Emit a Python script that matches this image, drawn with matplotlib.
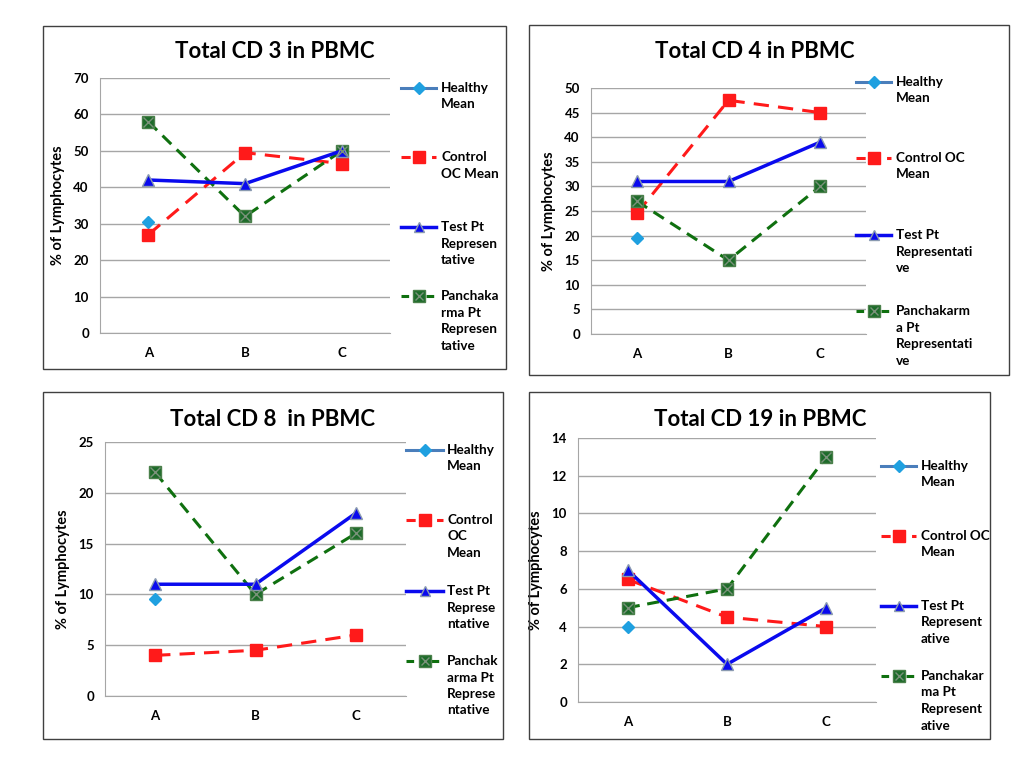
import matplotlib
matplotlib.use("Agg")
import matplotlib.pyplot as plt
import matplotlib.patches as mpatches
from matplotlib.lines import Line2D
import numpy as np

plt.rcParams['font.family'] = ['Lato', 'DejaVu Sans']
plt.rcParams['font.weight'] = 'bold'

cats = ['A', 'B', 'C']
nan = np.nan

cd3_healthy = [30.5, nan, nan]
cd3_control = [27, 49.5, 46.5]
cd3_test = [42, 41, 50]
cd3_pancha = [58, 32, 50]

cd4_healthy = [19.5, nan, nan]
cd4_control = [24.5, 47.5, 45]
cd4_test = [31, 31, 39]
cd4_pancha = [27, 15, 30]

cd8_healthy = [9.5, nan, nan]
cd8_control = [4, 4.5, 6]
cd8_test = [11, 11, 18]
cd8_pancha = [22, 10, 16]

cd19_healthy = [4, nan, nan]
cd19_control = [6.5, 4.5, 4]
cd19_test = [7, 2, 5]
cd19_pancha = [5, 6, 13]

W, H = 1024, 768
X_COLOR = '#7a927a'


def px_rect(x0, y0, x1, y1):
    # pixel box (top-left origin) -> figure fraction [l, b, w, h]
    return [x0 / W, 1 - y1 / H, (x1 - x0) / W, (y1 - y0) / H]


def draw_series(ax, healthy, control, test, pancha):
    x = np.arange(len(cats))
    ax.plot(x, healthy, color='#4a7ebb', lw=2.2, marker='D', ms=6,
            mfc='#1fa0e0', mec='#1fa0e0', zorder=3)
    ax.plot(x, control, color='#ff1a1a', lw=2.2, ls=(0, (5, 3)), marker='s',
            ms=9, mfc='#ff1a1a', mec='#ff1a1a', zorder=3)
    ax.plot(x, test, color='#0a0aee', lw=2.5, marker='^', ms=8,
            mfc='#0a0aee', mec='#8a9ab0', zorder=4)
    ax.plot(x, pancha, color='#0f700f', lw=2.2, ls=(0, (4, 2.5)), marker='s',
            ms=9, mfc='#1d6b2a', mec='#4a804a', zorder=3)
    ax.plot(x, pancha, ls='none', marker='x', ms=7, mec=X_COLOR,
            mew=1.0, zorder=4)


def style_axes(ax, ymax, step):
    ax.set_xlim(-0.5, 2.5)
    ax.set_ylim(0, ymax)
    ax.set_yticks(np.arange(0, ymax + step / 2, step))
    ax.set_xticks(range(len(cats)))
    ax.set_xticklabels(cats)
    ax.tick_params(length=0, labelsize=9.5)
    ax.tick_params(axis='y', pad=8)
    ax.tick_params(axis='x', pad=10)
    ax.grid(axis='y', color='#a6a6a6', lw=1)
    ax.set_axisbelow(True)
    for s in ['top', 'right']:
        ax.spines[s].set_visible(False)
    for s in ['left', 'bottom']:
        ax.spines[s].set_color('#a6a6a6')
    ax.set_ylabel('% of Lymphocytes', fontsize=10.5, fontweight='bold', labelpad=6)


def side_legend(fig, hx0, hx1, tx, ys, labels):
    styles = [
        dict(color='#4a7ebb', lw=2.2, marker='D', ms=6, mfc='#1fa0e0', mec='#1fa0e0'),
        dict(color='#ff1a1a', lw=2.2, ls=(0, (3, 2)), marker='s', ms=8,
             mfc='#ff1a1a', mec='#ff1a1a'),
        dict(color='#0a0aee', lw=2.5, marker='^', ms=7, mfc='#0a0aee', mec='#8a9ab0'),
        dict(color='#0f700f', lw=2.2, ls=(0, (2.5, 1.6)), marker='s', ms=8,
             mfc='#1d6b2a', mec='#4a804a'),
    ]
    for y, lab, st in zip(ys, labels, styles):
        yf = 1 - y / H
        ln = Line2D([hx0 / W, hx1 / W], [yf, yf], transform=fig.transFigure, **st)
        ln.set_markevery([])
        fig.add_artist(ln)
        mk = Line2D([(hx0 + hx1) / 2 / W], [yf], transform=fig.transFigure,
                    ls='none', **{k: v for k, v in st.items() if k not in ('ls', 'lw', 'color')})
        fig.add_artist(mk)
        if st['mfc'] == '#1d6b2a':
            fig.add_artist(Line2D([(hx0 + hx1) / 2 / W], [yf], transform=fig.transFigure,
                                  ls='none', marker='x', ms=6, mec=X_COLOR, mew=1.0))
        fig.text(tx / W, yf + 6 / H, lab, ha='left', va='top', fontsize=9.7,
                 fontweight='bold', linespacing=1.45)


fig = plt.figure(figsize=(10.24, 7.68), dpi=100)

frames = [(43, 26, 506, 369), (529, 25, 1009, 375),
          (43, 392, 503, 739), (529, 392, 990, 739)]
for x0, y0, x1, y1 in frames:
    fig.add_artist(mpatches.Rectangle((x0 / W, 1 - y1 / H), (x1 - x0) / W, (y1 - y0) / H,
                                      transform=fig.transFigure, fill=False,
                                      ec='#404040', lw=1.0))

# panel 1
ax1 = fig.add_axes(px_rect(100, 78, 390, 333))
draw_series(ax1, cd3_healthy, cd3_control, cd3_test, cd3_pancha)
style_axes(ax1, 70, 10)
fig.text(275 / W, 1 - 52 / H, 'Total CD 3 in PBMC', ha='center', va='center',
         fontsize=16, fontweight='bold')
side_legend(fig, 401, 436, 441, [88, 157, 227, 296],
            ['Healthy\nMean', 'Control\nOC Mean', 'Test Pt\nRepresen\ntative',
             'Panchaka\nrma Pt\nRepresen\ntative'])

# panel 2
ax2 = fig.add_axes(px_rect(591, 88, 866, 334))
draw_series(ax2, cd4_healthy, cd4_control, cd4_test, cd4_pancha)
style_axes(ax2, 50, 5)
fig.text(755 / W, 1 - 52 / H, 'Total CD 4 in PBMC', ha='center', va='center',
         fontsize=16, fontweight='bold')
side_legend(fig, 856, 891, 896, [82, 158, 235, 311],
            ['Healthy\nMean', 'Control OC\nMean', 'Test Pt\nRepresentati\nve',
             'Panchakarm\na Pt\nRepresentati\nve'])

# panel 3
ax3 = fig.add_axes(px_rect(105, 442, 406, 696))
draw_series(ax3, cd8_healthy, cd8_control, cd8_test, cd8_pancha)
style_axes(ax3, 25, 5)
fig.text(273 / W, 1 - 419 / H, 'Total CD 8  in PBMC', ha='center', va='center',
         fontsize=16, fontweight='bold')
side_legend(fig, 406, 443, 447, [450, 520, 591, 661],
            ['Healthy\nMean', 'Control\nOC\nMean', 'Test Pt\nReprese\nntative',
             'Panchak\narma Pt\nReprese\nntative'])

# panel 4
ax4 = fig.add_axes(px_rect(578, 438, 876, 702))
draw_series(ax4, cd19_healthy, cd19_control, cd19_test, cd19_pancha)
style_axes(ax4, 14, 2)
fig.text(760 / W, 1 - 419 / H, 'Total CD 19 in PBMC', ha='center', va='center',
         fontsize=16, fontweight='bold')
side_legend(fig, 881, 916, 921, [466, 536, 606, 676],
            ['Healthy\nMean', 'Control OC\nMean', 'Test Pt\nRepresent\native',
             'Panchakar\nma Pt\nRepresent\native'])

fig.savefig('out.png', dpi=100)
